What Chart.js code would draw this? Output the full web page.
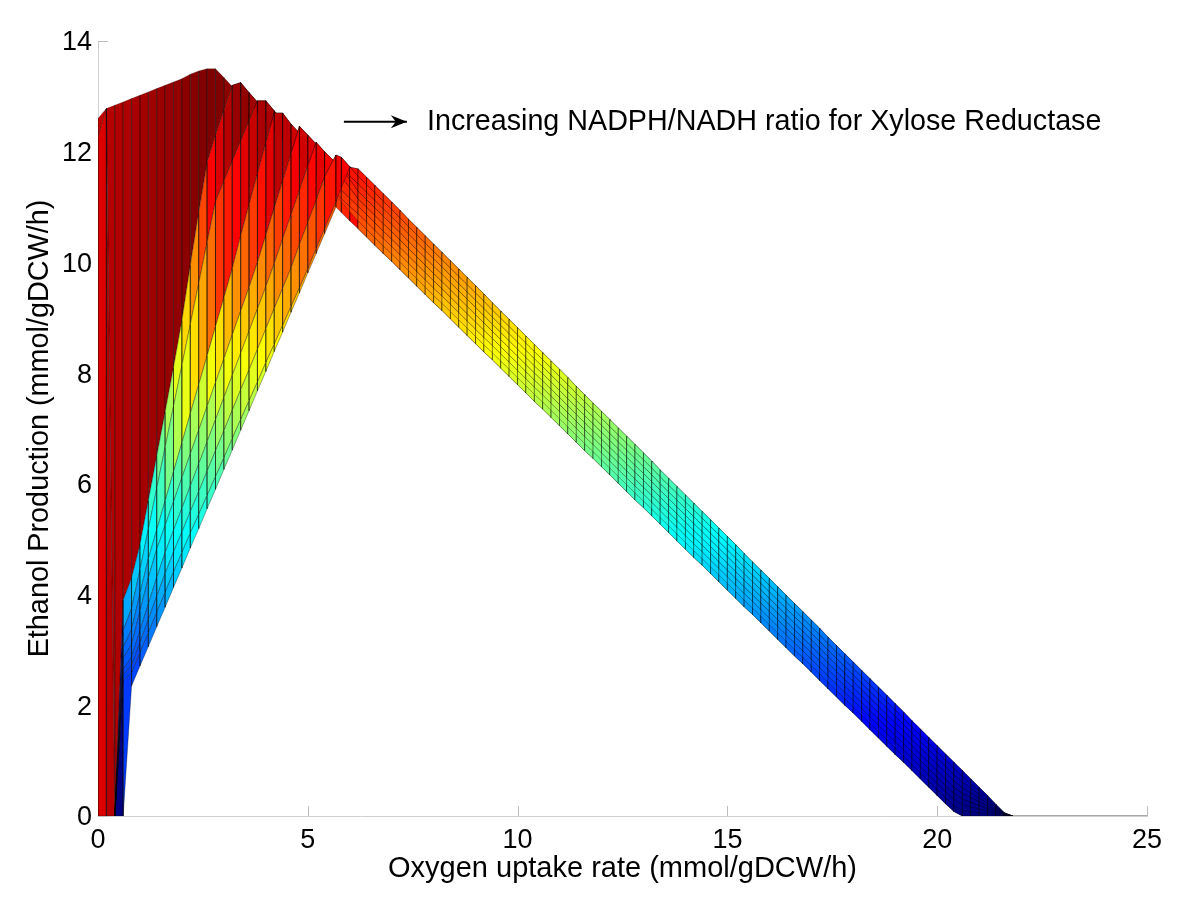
<!DOCTYPE html>
<html><head><meta charset="utf-8">
<style>html,body{margin:0;padding:0;background:#fff}canvas{display:block}</style>
<script src="https://cdn.jsdelivr.net/npm/chart.js@4"></script>
</head><body><canvas id="c" width="1200" height="899"></canvas>
<script>
const xTicks=[0,5,10,15,20,25];
const yTicks=[0,2,4,6,8,10,12,14];
const xTitle="Oxygen uptake rate (mmol/gDCW/h)";
const yTitle="Ethanol Production (mmol/gDCW/h)";
const note="Increasing NADPH/NADH ratio for Xylose Reductase";
const arrowX=[5.86,7.36], arrowY=[12.54,12.54];
const tailX=[21.8,25], tailY=[0,0];
const columns=[0,.2,.4,.6,.8,1,1.2,1.4,1.6,1.8,2,2.2,2.4,2.6,2.8,3,3.2,3.4,3.6,3.8,4,4.2,4.4,4.6,4.8,5,5.2,5.4,5.67,5.8,6,6.2];
const curve0=[0,0,0,0,2.35,2.71,3.06,3.42,3.77,4.13,4.48,4.84,5.19,5.55,5.9,6.26,6.61,6.97,7.32,7.68,8.03,8.39,8.74,9.1,9.45,9.81,10.16,10.52,11,10.9,10.75,10.61];
const curve1=[0,0,0,2.45,2.6,2.96,3.32,3.69,4.05,4.42,4.77,5.12,5.46,5.8,6.14,6.48,6.83,7.17,7.51,7.85,8.2,8.53,8.87,9.21,9.55,9.89,10.26,10.62,11.1,11.35,11.72,11.69];
const curve2=[0,0,0,2.55,2.72,3.13,3.55,3.97,4.38,4.77,5.13,5.5,5.86,6.23,6.6,6.96,7.33,7.7,8.06,8.43,8.8,9.17,9.53,9.9,10.32,10.72,11.12,11.55,11.94,11.9,11.73,11.555];
const curve3=[0,0,0,2.65,2.87,3.35,3.83,4.31,4.76,5.16,5.56,5.96,6.36,6.76,7.16,7.56,7.96,8.36,8.76,9.16,9.56,9.98,10.42,10.86,11.3,11.74,12.17,12,11.8,11.7,11.56,11.42];
const curve4=[0,0,0,2.85,3.1,3.7,4.3,4.82,5.25,5.68,6.11,6.54,6.97,7.4,7.83,8.26,8.69,9.12,9.55,10,10.49,10.98,11.47,11.96,12.46,12.3,12.14,11.98,11.77,11.67,11.5,11.285];
const curve5=[0,0,0,3.05,3.37,4.02,4.65,5.17,5.69,6.22,6.74,7.27,7.79,8.31,8.84,9.36,9.89,10.48,11.04,11.6,12.16,12.7,12.7,12.5,12.34,12.18,12.02,11.86,11.65,11.55,11.35,11.15];
const curve6=[0,0,0,3.35,3.75,4.45,5.18,5.92,6.66,7.4,8.14,8.88,9.62,10.36,11.1,11.47,11.83,12.2,12.56,12.92,12.92,12.74,12.56,12.38,12.2,12.02,11.84,11.66,11.42,11.31,11.16,11.015];
const curve7=[12.26,12.78,0,3.9,4.3,4.9,5.7,6.5,7.3,8.1,8.95,9.95,10.9,11.8,12.3,12.75,13.2,13.25,13.07,12.9,12.72,12.55,12.37,12.2,12.02,11.85,11.67,11.5,11.26,11.15,11.01,10.88];
const curve8=[12.6,12.78,12.84,12.9,12.96,13.02,13.08,13.14,13.2,13.26,13.32,13.4,13.46,13.5,13.5,13.34,13.18,13.02,12.86,12.7,12.54,12.38,12.22,12.06,11.9,11.74,11.58,11.42,11.2,11.1,10.92,10.75];
const bandColumns=[6.4,6.6,6.8,7,7.2,7.4,7.6,7.8,8,8.2,8.4,8.6,8.8,9,9.2,9.4,9.6,9.8,10,10.2,10.4,10.6,10.8,11,11.2,11.4,11.6,11.8,12,12.2,12.4,12.6,12.8,13,13.2,13.4,13.6,13.8,14,14.2,14.4,14.6,14.8,15,15.2,15.4,15.6,15.8,16,16.2,16.4,16.6,16.8,17,17.2,17.4,17.6,17.8,18,18.2,18.4,18.6,18.8,19,19.2,19.4,19.6,19.8,20,20.2,20.4,20.6,20.8,21,21.2,21.4,21.6,21.8];
const bandUpper=[11.54,11.39,11.24,11.09,10.94,10.78,10.63,10.48,10.33,10.18,10.03,9.88,9.73,9.58,9.43,9.27,9.12,8.97,8.82,8.67,8.52,8.37,8.22,8.07,7.92,7.76,7.61,7.46,7.31,7.16,7.01,6.86,6.71,6.56,6.41,6.25,6.1,5.95,5.8,5.65,5.5,5.35,5.2,5.05,4.9,4.74,4.59,4.44,4.29,4.14,3.99,3.84,3.69,3.54,3.39,3.23,3.08,2.93,2.78,2.63,2.48,2.33,2.18,2.03,1.88,1.72,1.57,1.42,1.27,1.12,.97,.82,.67,.52,.37,.21,.06,0];
const bandLower=[10.46,10.31,10.16,10.02,9.87,9.72,9.57,9.42,9.27,9.13,8.98,8.83,8.68,8.53,8.38,8.24,8.09,7.94,7.79,7.64,7.49,7.35,7.2,7.05,6.9,6.75,6.6,6.46,6.31,6.16,6.01,5.86,5.71,5.57,5.42,5.27,5.12,4.97,4.82,4.67,4.53,4.38,4.23,4.08,3.93,3.78,3.64,3.49,3.34,3.19,3.04,2.89,2.75,2.6,2.45,2.3,2.15,2,1.86,1.71,1.56,1.41,1.26,1.11,.97,.82,.67,.52,.37,.22,.08,0,0,0,0,0,0,0];
const bandPlace=[1,0,.125,.25,.375,.5,.625,.75,.875];
const curves=[curve0,curve1,curve2,curve3,curve4,curve5,curve6,curve7,curve8];
const stripPairs=[[0,1],[8,0],[7,8],[6,7],[5,6],[4,5],[3,4],[2,3],[1,2]];
const colorTop=13.5;

function jet(v){
  const c=t=>Math.round(255*Math.max(0,Math.min(1,t)));
  return `rgb(${c(1.5-Math.abs(4*v-3))},${c(1.5-Math.abs(4*v-2))},${c(1.5-Math.abs(4*v-1))})`;
}
const allX=columns.concat(bandColumns);
function height(k,j){
  if(j<columns.length) return curves[k][j];
  const b=j-columns.length;
  return bandUpper[b]+(bandLower[b]-bandUpper[b])*bandPlace[k];
}
const sets=[];
for(const [s,t] of stripPairs){
  const bandOnly=(s===8&&t===0);
  for(let j=bandOnly?columns.length-1:0;j<allX.length-1;j++){
    const a=height(s,j),b=height(s,j+1),c=height(t,j+1),d=height(t,j);
    if(a===b&&b===c&&c===d) continue;
    const alpha=(s===7)?0.25:0.42;
    sets.push({
      type:'scatter',showLine:true,fill:'shape',
      backgroundColor:jet(d/colorTop),borderColor:`rgba(0,0,0,${alpha})`,borderWidth:0.8,
      pointRadius:0,pointHitRadius:0,tension:0,
      data:[{x:allX[j],y:a},{x:allX[j+1],y:b},{x:allX[j+1],y:c},{x:allX[j],y:d},{x:allX[j],y:a}]
    });
  }
}
sets.reverse();
sets.unshift({type:'scatter',showLine:true,borderColor:'#555',borderWidth:1,pointRadius:0,fill:false,
  data:tailX.map((x,i)=>({x,y:tailY[i]}))});
sets.unshift({type:'scatter',showLine:true,borderColor:'#000',borderWidth:2,pointRadius:0,fill:false,
  data:arrowX.map((x,i)=>({x,y:arrowY[i]}))});

const marks={id:'marks',
  beforeDatasetsDraw(ch){
    const {ctx,scales:{x,y},chartArea:a}=ch;
    ctx.save();ctx.strokeStyle='#bdbdbd';ctx.lineWidth=1;ctx.beginPath();
    xTicks.forEach(t=>{const p=Math.round(x.getPixelForValue(t))+.5;ctx.moveTo(p,a.bottom);ctx.lineTo(p,a.bottom-10);});
    yTicks.forEach(t=>{const p=Math.round(y.getPixelForValue(t))+.5;ctx.moveTo(a.left,p);ctx.lineTo(a.left+10,p);});
    ctx.stroke();ctx.restore();
  },
  afterDatasetsDraw(ch){
    const {ctx,scales:{x,y}}=ch;
    ctx.save();
    const tx=x.getPixelForValue(arrowX[1]),ty=y.getPixelForValue(arrowY[1]);
    ctx.fillStyle='#000';ctx.beginPath();ctx.moveTo(tx,ty);ctx.lineTo(tx-16,ty-6.5);ctx.lineTo(tx-11,ty);ctx.lineTo(tx-16,ty+6.5);ctx.closePath();ctx.fill();
    ctx.font='28.7px "Liberation Sans"';ctx.textBaseline='middle';ctx.textAlign='left';
    ctx.fillText(note,x.getPixelForValue(7.84),y.getPixelForValue(12.54));
    ctx.restore();
  }
};
new Chart(document.getElementById('c'),{
  type:'scatter',
  data:{datasets:sets},
  plugins:[marks],
  options:{
    responsive:false,animation:false,events:[],
    layout:{padding:{top:41,right:53,left:0,bottom:0}},
    plugins:{legend:{display:false},tooltip:{enabled:false},title:{display:false}},
    scales:{
      x:{type:'linear',min:0,max:25,
        afterFit(s){s.height=83;},
        afterBuildTicks(s){s.ticks=xTicks.map(v=>({value:v}));},
        grid:{display:false,drawTicks:false},border:{display:true,color:'#cfcfcf',width:1},
        ticks:{color:'#000',padding:8,maxRotation:0,font:{family:'Liberation Sans',size:27}},
        title:{display:true,text:xTitle,color:'#000',padding:{top:0,bottom:13},font:{family:'Liberation Sans',size:29}}},
      y:{type:'linear',min:0,max:14,
        afterFit(s){s.width=98;},
        afterBuildTicks(s){s.ticks=yTicks.map(v=>({value:v}));},
        grid:{display:false,drawTicks:false},border:{display:true,color:'#cfcfcf',width:1},
        ticks:{color:'#000',padding:6,labelOffset:2,font:{family:'Liberation Sans',size:27}},
        title:{display:true,text:yTitle,color:'#000',padding:{top:23,bottom:0},font:{family:'Liberation Sans',size:28.8}}}
    }
  }
});
</script></body></html>
